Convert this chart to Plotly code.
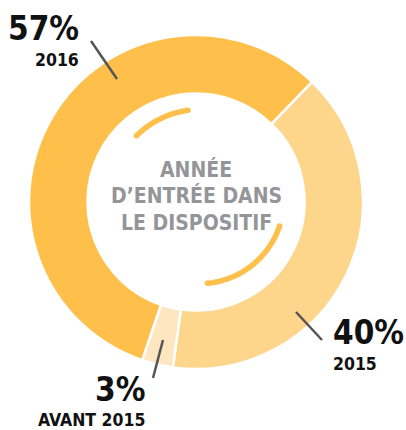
import numpy as np
import plotly.graph_objects as go

# ---- data ----
years = ["2015", "AVANT 2015", "2016"]
shares = [40, 3, 57]
center_title = ["ANNÉE", "D’ENTRÉE DANS", "LE DISPOSITIF"]

# ---- style ----
W, H = 406, 430
colors = ["#FDD58B", "#FEE6C0", "#FEC04A"]
arc_color = "#FEC04A"
FONT = "Liberation Sans Narrow, DejaVu Sans Condensed, Roboto, sans-serif"

def px(x):
    return x / W

def py(y):
    return 1 - y / H

cx, cy, R = 196, 202, 167

fig = go.Figure()
fig.add_trace(go.Pie(
    labels=years, values=shares, sort=False, direction="clockwise",
    rotation=44, hole=0.65, textinfo="none", hoverinfo="label+percent",
    marker=dict(colors=colors, line=dict(color="white", width=2.5)),
    domain=dict(x=[px(cx - R), px(cx + R)], y=[py(cy + R), py(cy - R)]),
    showlegend=False,
))

shapes = []
# leader lines
leaders = [((91, 41), (117, 79)), ((296, 312), (322, 340)), ((163, 340), (153, 378))]
for (x0, y0), (x1, y1) in leaders:
    shapes.append(dict(type="line", xref="paper", yref="paper",
                       x0=px(x0), y0=py(y0), x1=px(x1), y1=py(y1),
                       line=dict(color="#555555", width=2.5)))

# decorative arcs inside the hole
def arc_path(a0, a1, r0, r1, n=40):
    t = np.linspace(0, 1, n)
    a = np.radians(a0 + (a1 - a0) * t)
    r = r0 + (r1 - r0) * t
    xs = cx + r * np.sin(a)
    ys = cy - r * np.cos(a)
    d = "M " + " L ".join(f"{px(x):.5f},{py(y):.5f}" for x, y in zip(xs, ys))
    return d, (xs[0], ys[0]), (xs[-1], ys[-1])

lw = 5.5
for a0, a1, r0, r1 in [(-42, -5, 89, 92), (106, 172, 87, 82)]:
    d, p0, p1 = arc_path(a0, a1, r0, r1)
    shapes.append(dict(type="path", path=d, xref="paper", yref="paper",
                       line=dict(color=arc_color, width=lw)))
    for (x, y) in (p0, p1):
        shapes.append(dict(type="circle", xref="paper", yref="paper",
                           x0=px(x - lw / 2), x1=px(x + lw / 2),
                           y0=py(y + lw / 2), y1=py(y - lw / 2),
                           fillcolor=arc_color, line=dict(width=0)))

annotations = []
# center title
for i, line in enumerate(center_title):
    annotations.append(dict(text=f"<b>{line}</b>", x=px(196), y=py(169 + 27 * i),
                            xref="paper", yref="paper", showarrow=False,
                            xanchor="center", yanchor="middle",
                            font=dict(family=FONT, size=21, color="#939598")))

# percent labels
label_pos = {
    "2016": dict(x=81, y=28, sub_y=60, anchor="right"),
    "2015": dict(x=331, y=332, sub_y=364, anchor="left"),
    "AVANT 2015": dict(x=147, y=389, sub_y=420, anchor="right"),
}
for yr, v in zip(years, shares):
    p = label_pos[yr]
    annotations.append(dict(text=f"<b>{v}%</b>", x=px(p["x"]), y=py(p["y"]),
                            xref="paper", yref="paper", showarrow=False,
                            xanchor=p["anchor"], yanchor="middle",
                            font=dict(family=FONT, size=33, color="#111111")))
    annotations.append(dict(text=f"<b>{yr}</b>", x=px(p["x"]), y=py(p["sub_y"]),
                            xref="paper", yref="paper", showarrow=False,
                            xanchor=p["anchor"], yanchor="middle",
                            font=dict(family=FONT, size=17.5, color="#111111")))

fig.update_layout(
    width=W, height=H, margin=dict(l=0, r=0, t=0, b=0),
    paper_bgcolor="white", plot_bgcolor="white",
    shapes=shapes, annotations=annotations,
)
fig.write_html("out.html")
